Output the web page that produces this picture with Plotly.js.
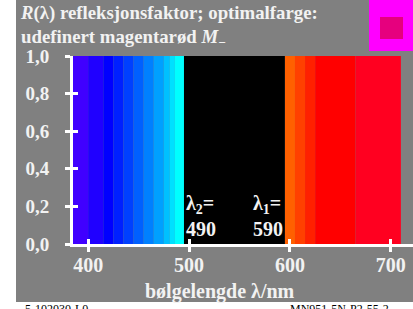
<!DOCTYPE html>
<html><head><meta charset="utf-8">
<script src="https://cdn.plot.ly/plotly-3.0.1.min.js"></script>
<style>html,body{margin:0;padding:0;background:#fff}#c{width:413px;height:309px}</style>
</head><body><div id="c"></div>
<script>
// ---- data ----
const bandEdges = [385,400,415,425,435,445,455,465,475,481,486,495,595,605,615,625,665,710];
const bandColors = ['#4000ff','#2000ff','#0000ff','#0020ff','#0040ff','#0060ff','#0080ff','#00a0ff','#00c0ff','#00e0ff','#00ffff','#000000','#ff6000','#ff4000','#ff2000','#ff0000','#ff0020'];
const reflectance = [1,1,1,1,1,1,1,1,1,1,1,0,1,1,1,1,1];
const lambda2 = 490, lambda1 = 590;
const xTickVals = [400,500,600,700];
const xTickText = ['400','500','600','700'];
const yTickVals = [0,0.2,0.4,0.6,0.8,1.0];
const yTickText = ['0,0','0,2','0,4','0,6','0,8','1,0'];

const mids = [], widths = [];
for (let i = 0; i < bandColors.length; i++) {
  mids.push((bandEdges[i] + bandEdges[i+1]) / 2);
  widths.push(bandEdges[i+1] - bandEdges[i]);
}
const absorbed = reflectance.map(r => 1 - r);

const W = 413, H = 309, L = 73, R = 0, T = 56, B = 65;
const pw = W - L - R, ph = H - T - B;
const px = x => (x - L) / pw;          // pixel -> paper x
const py = y => (H - B - y) / ph;      // pixel -> paper y

const txt = '#f2f2f2';
const serif = 'Liberation Serif, Times New Roman, serif';

const traces = [
  {type:'bar', x: mids, y: reflectance, width: widths, marker:{color: bandColors, line:{width:0}}, hoverinfo:'skip'},
  {type:'bar', x: mids, y: absorbed, base: reflectance, width: widths, marker:{color:'#000000', line:{width:0}}, hoverinfo:'skip'},
  {type:'scatter', x:[400], y:[0], xaxis:'x2', yaxis:'y2', mode:'markers', marker:{opacity:0}, hoverinfo:'skip'}
];

const axCommon = {showgrid:false, zeroline:false, linecolor:'#ffffff', linewidth:3, tickcolor:'#ffffff', tickwidth:3, ticklen:5,
  tickfont:{family:serif, size:20, color:txt, weight:'bold'}};

const layout = {
  width: W, height: H,
  margin:{l:L, r:R, t:T, b:B, pad:0},
  paper_bgcolor:'#ffffff', plot_bgcolor:'#808080',
  barmode:'overlay', showlegend:false,
  xaxis: Object.assign({}, axCommon, {range:[385,722], tickvals:xTickVals, ticktext:xTickText, ticks:'outside', showline:true, ticklabelstandoff:-4}),
  yaxis: Object.assign({}, axCommon, {range:[0,1], tickvals:yTickVals, ticktext:yTickText, ticks:'outside', showline:true, ticklabelstandoff:12,
          tickfont:{family:serif, size:19, color:txt, weight:'bold'}}),
  xaxis2: {overlaying:'x', range:[385,722], tickvals:xTickVals, ticks:'inside', ticklen:5, tickwidth:3, tickcolor:'#ffffff', showticklabels:false, showgrid:false, zeroline:false, showline:false},
  yaxis2: {overlaying:'y', range:[0,1], tickvals:yTickVals, ticks:'inside', ticklen:5, tickwidth:3, tickcolor:'#ffffff', showticklabels:false, showgrid:false, zeroline:false, showline:false},
  shapes: [
    {type:'rect', xref:'paper', yref:'paper', x0:px(16), x1:px(413), y0:py(302), y1:py(0), fillcolor:'#808080', line:{width:0}, layer:'below'},
    {type:'rect', xref:'paper', yref:'paper', x0:px(369), x1:px(413), y0:py(51), y1:py(0), fillcolor:'#ff00ff', line:{width:0}},
    {type:'rect', xref:'paper', yref:'paper', x0:px(380), x1:px(403), y0:py(39), y1:py(17), fillcolor:'#e6007e', line:{width:0}}
  ],
  annotations: [
    {xref:'paper', yref:'paper', x:px(19), y:py(1), xanchor:'left', yanchor:'top', align:'left', showarrow:false, borderpad:0,
     text:'<i>R</i>(λ) refleksjonsfaktor; optimalfarge:<br>udefinert magentarød <i>M</i><sub>−</sub>',
     font:{family:serif, size:18.8, color:txt, weight:'bold'}},
    {xref:'paper', yref:'paper', x:px(220), y:py(278), xanchor:'center', yanchor:'top', showarrow:false,
     text:'bølgelengde λ/nm', font:{family:serif, size:20, color:txt, weight:'bold'}},
    {xref:'x', yref:'y', x:lambda2 + 5, y:0.012, xanchor:'left', yanchor:'bottom', align:'left', showarrow:false,
     text:'λ<sub>2</sub>=<br>' + lambda2, font:{family:serif, size:20, color:txt, weight:'bold'}},
    {xref:'x', yref:'y', x:lambda1 + 5, y:0.012, xanchor:'right', yanchor:'bottom', align:'left', showarrow:false,
     text:'λ<sub>1</sub>=<br>' + lambda1, font:{family:serif, size:20, color:txt, weight:'bold'}},
    {xref:'paper', yref:'paper', x:px(24), y:py(301), xanchor:'left', yanchor:'top', showarrow:false, borderpad:0,
     text:'5-102030-L0', font:{family:serif, size:12, color:'#000000'}},
    {xref:'paper', yref:'paper', x:px(289), y:py(301), xanchor:'left', yanchor:'top', showarrow:false, borderpad:0,
     text:'MN951-5N-P2-55-2', font:{family:serif, size:12, color:'#000000'}}
  ]
};

Plotly.newPlot('c', traces, layout, {staticPlot:true, displayModeBar:false});
</script>
</body></html>
